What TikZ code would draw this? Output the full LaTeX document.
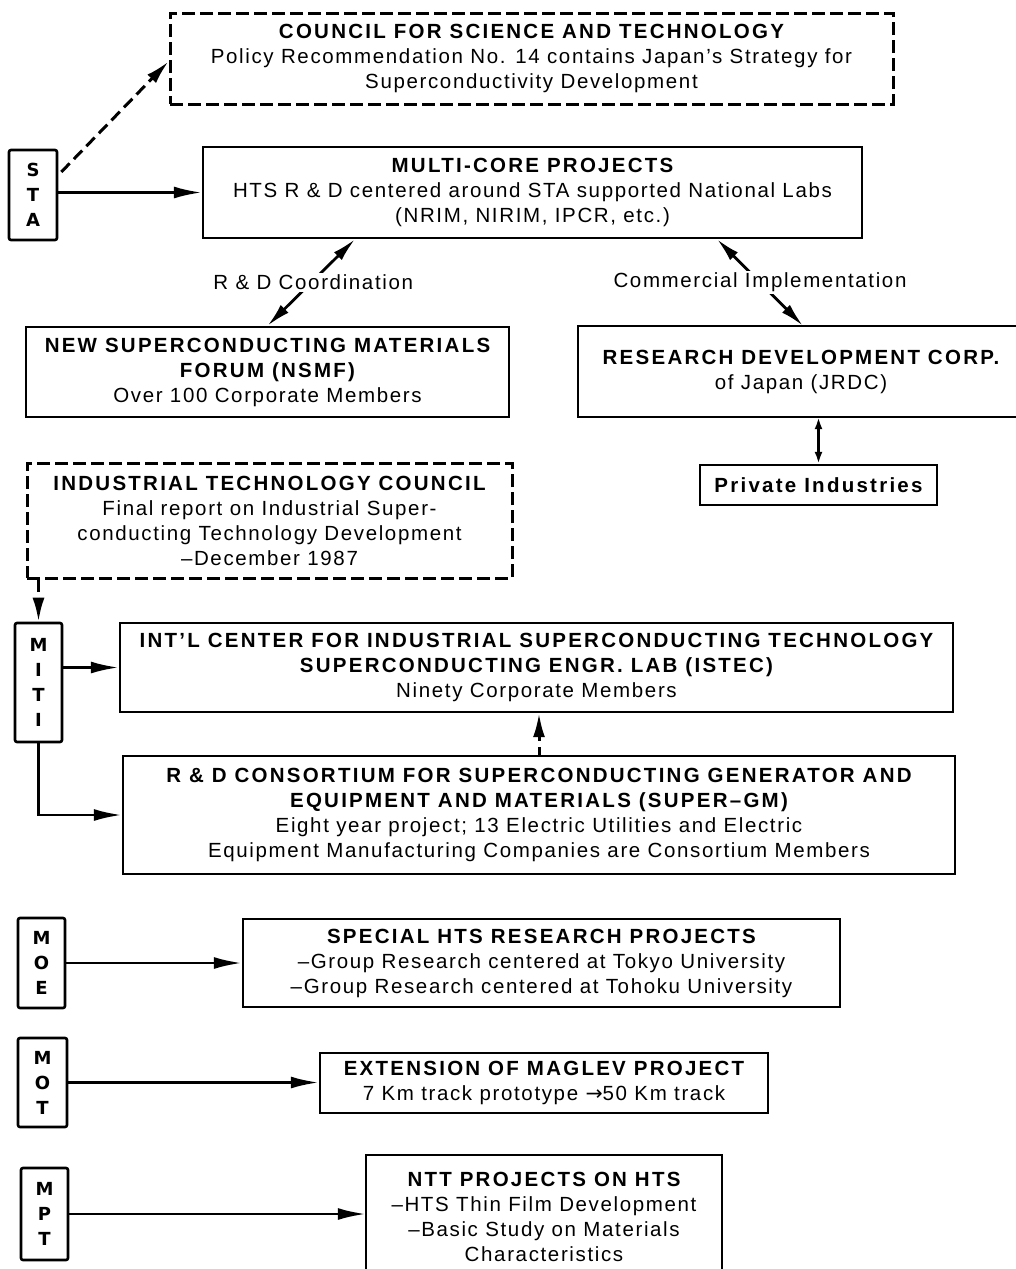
\documentclass[tikz,border=0pt]{standalone}
\usepackage{fontspec}
\setmainfont[LetterSpace=8]{Liberation Sans}
\newfontfamily\hdfont[LetterSpace=11]{Liberation Sans}
\newfontfamily\lbfont{DejaVu Sans}
\newfontfamily\arrowfont{DejaVu Sans}
\usetikzlibrary{arrows.meta,calc}
\newcommand\hd[1]{{\hdfont\bfseries #1}}
\begin{document}
\begin{tikzpicture}[x=1pt,y=-1pt,
  every node/.style={inner sep=0pt, align=center, font=\fontsize{20.5}{25}\selectfont},
  box/.style={draw, line width=2.4pt},
  dbox/.style={draw, line width=3pt, dash pattern=on 13pt off 5pt},
  lbox/.style={draw, line width=2.6pt, rounded corners=2pt, font=\fontsize{18}{25}\selectfont\lbfont\bfseries},
  arr/.style={line width=2.8pt, -{Latex[length=28pt,width=12pt]}},
  darr/.style={line width=3pt, dash pattern=on 12pt off 6pt, -{Latex[length=24pt,width=12pt]}},
  biarr/.style={line width=2.8pt, {Latex[length=24pt,width=11pt]}-{Latex[length=24pt,width=11pt]}},
  sbiarr/.style={line width=2.6pt, {Latex[length=12pt,width=8pt]}-{Latex[length=12pt,width=8pt]}},
  lab/.style={fill=white, inner sep=2pt}]
\useasboundingbox (0,0) rectangle (1016,1269);
\fill[white] (0,0) rectangle (1016,1269);

% STA group
\node[dbox, minimum width=723pt, minimum height=91pt] (council) at (531.5,58.5)
  {\hd{COUNCIL FOR SCIENCE AND TECHNOLOGY}\\Policy Recommendation No. 14 contains Japan’s Strategy for\\Superconductivity Development};
\node[lbox, minimum width=48pt, minimum height=90pt] (sta) at (33,195) {S\\T\\A};
\node[box, minimum width=659pt, minimum height=91pt] (mc) at (532.5,192.5)
  {\hd{MULTI-CORE PROJECTS}\\HTS R \& D centered around STA supported National Labs\\(NRIM, NIRIM, IPCR, etc.)};
\node[box, minimum width=483pt, minimum height=90pt] (nsmf) at (267.5,372)
  {\hd{NEW SUPERCONDUCTING MATERIALS}\\\hd{FORUM (NSMF)}\\Over 100 Corporate Members};
\node[minimum width=446pt, minimum height=91pt] (jrdc) at (801,371.5)
  {\hd{RESEARCH DEVELOPMENT CORP.}\\of Japan (JRDC)};
\draw[line width=2.4pt] (1030,326) -| (578,417) -- (1030,417);
\node[box, minimum width=237pt, minimum height=40pt] (priv) at (818.5,485) {\hd{Private Industries}};

\draw[darr] ([xshift=3pt,yshift=23pt]sta.east) -- ([yshift=-3pt]council.west);
\draw[arr] (sta.east |- mc.west) -- (mc.west);
\draw[biarr] (nsmf.north) -- ([xshift=-177.5pt]mc.south)
  node[lab, pos=0.5, xshift=2pt] (rdc) {R \& D Coordination};
\draw[biarr] ([xshift=184.5pt]mc.south) -- ([xshift=2pt]jrdc.north)
  node[lab, pos=0.5] (ci) {Commercial Implementation};
\draw[sbiarr] (priv.north |- jrdc.south) -- (priv.north);

% MITI group
\node[dbox, minimum width=485pt, minimum height=115pt] (itc) at (269.5,520.5)
  {\hd{INDUSTRIAL TECHNOLOGY COUNCIL}\\Final report on Industrial Super-\\conducting Technology Development\\–December 1987};
\node[lbox, minimum width=47pt, minimum height=119pt] (miti) at (38.5,682.5) {M\\I\\T\\I};
\node[box, minimum width=833pt, minimum height=89pt] (istec) at (536.5,667.5)
  {\hd{INT’L CENTER FOR INDUSTRIAL SUPERCONDUCTING TECHNOLOGY}\\\hd{SUPERCONDUCTING ENGR. LAB (ISTEC)}\\Ninety Corporate Members};
\node[box, minimum width=832pt, minimum height=118pt] (sgm) at (539,815)
  {\hd{R \& D CONSORTIUM FOR SUPERCONDUCTING GENERATOR AND}\\\hd{EQUIPMENT AND MATERIALS (SUPER–GM)}\\Eight year project; 13 Electric Utilities and Electric\\Equipment Manufacturing Companies are Consortium Members};

\draw[darr] (miti.north |- itc.south) -- (miti.north);
\draw[arr] (miti.east |- istec.west) -- (istec.west);
\draw[arr] (miti.south) -- (miti.south |- sgm.west) -- (sgm.west);
\draw[darr, dash pattern=on 8pt off 6pt] (sgm.north) -- (sgm.north |- istec.south);

% MOE
\node[lbox, minimum width=47pt, minimum height=90pt] (moe) at (41.5,963) {M\\O\\E};
\node[box, minimum width=597pt, minimum height=88pt] (spec) at (541.5,963)
  {\hd{SPECIAL HTS RESEARCH PROJECTS}\\–Group Research centered at Tokyo University\\–Group Research centered at Tohoku University};
\draw[arr] (moe.east) -- (moe.east -| spec.west);

% MOT
\node[lbox, minimum width=49pt, minimum height=89pt] (mot) at (42.5,1082.5) {M\\O\\T};
\node[box, minimum width=448pt, minimum height=60pt] (mag) at (544,1083)
  {\hd{EXTENSION OF MAGLEV PROJECT}\\7 Km track prototype {\arrowfont →}50 Km track};
\draw[arr] (mot.east) -- (mot.east -| mag.west);

% MPT
\node[lbox, minimum width=47pt, minimum height=92pt] (mpt) at (44.5,1214) {M\\P\\T};
\node[minimum width=356pt, minimum height=123pt] (ntt) at (544,1216.5)
  {\hd{NTT PROJECTS ON HTS}\\–HTS Thin Film Development\\–Basic Study on Materials\\Characteristics};
\draw[line width=2.4pt] (366,1285) |- (722,1155) -- (722,1285);
\draw[arr] (mpt.east) -- (mpt.east -| ntt.west);
\end{tikzpicture}
\end{document}
